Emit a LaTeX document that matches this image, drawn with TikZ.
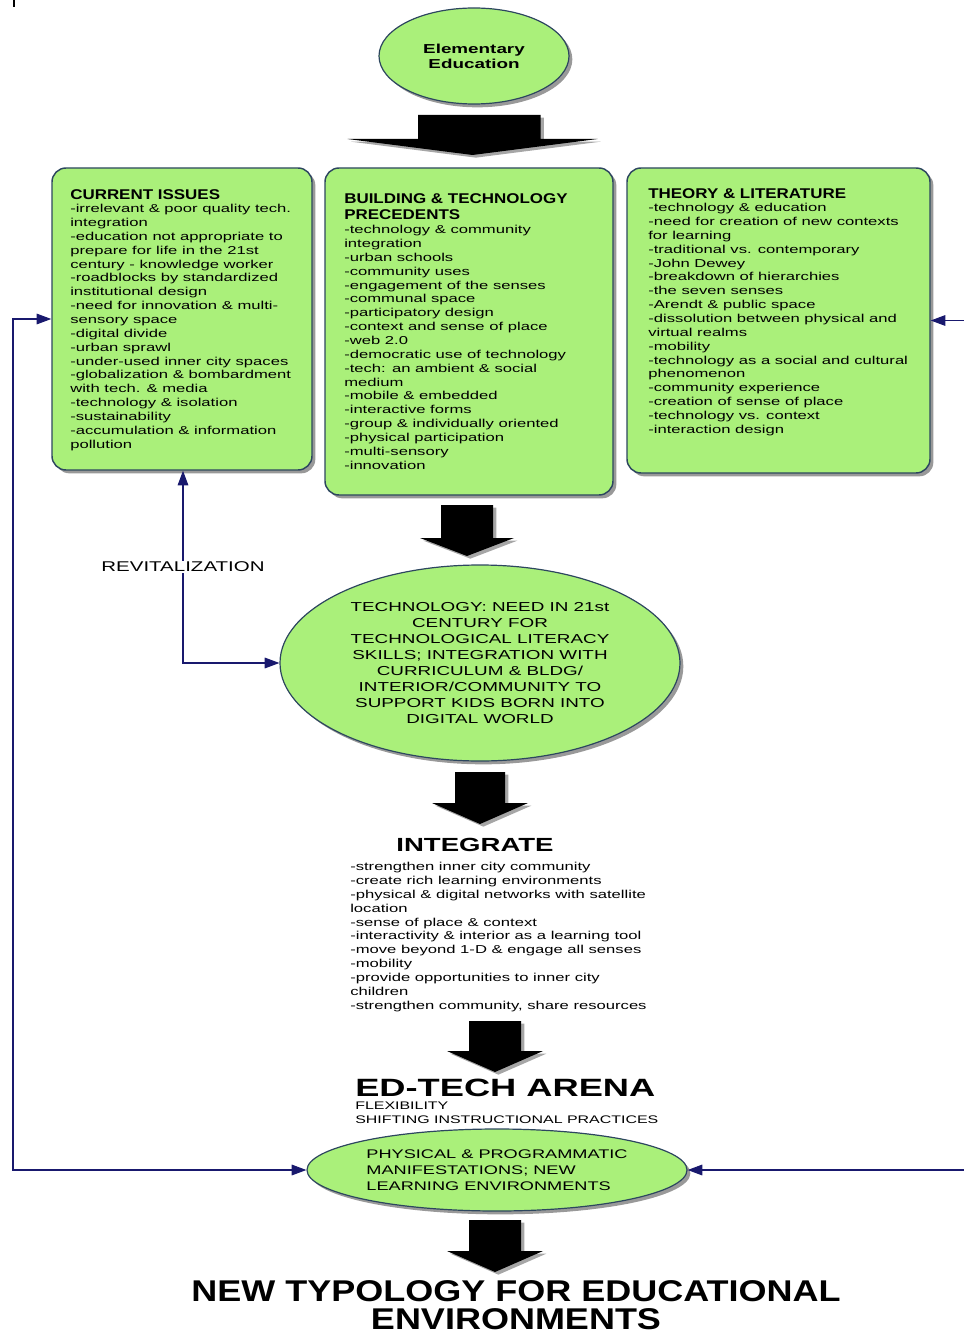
\documentclass[tikz,border=0pt]{standalone}
\usepackage{fontspec}
\setmainfont{Liberation Sans}[FakeStretch=1.45]
\newfontfamily\headfont{Liberation Sans}[FakeStretch=1.2]
\usepackage{xcolor}
\usetikzlibrary{positioning, arrows.meta, shapes.geometric, shadows}

\definecolor{boxgreen}{RGB}{170,240,122}
\definecolor{boxline}{RGB}{45,70,95}
\definecolor{linkblue}{RGB}{25,25,110}

\tikzset{
  greenbox/.style={draw=boxline, fill=boxgreen, line width=1.1pt,
    rounded corners=10.5pt, inner sep=0pt,
    drop shadow={shadow xshift=2.5pt, shadow yshift=-2.5pt, fill=gray, opacity=0.8}},
  greenoval/.style={ellipse, draw=boxline, fill=boxgreen, line width=0.9pt,
    inner sep=0pt,
    drop shadow={shadow xshift=2.5pt, shadow yshift=-2.5pt, fill=gray, opacity=0.8}},
  blockarrow/.style={fill=black,
    drop shadow={shadow xshift=2.5pt, shadow yshift=-2pt, fill=gray!70, opacity=1}},
  link/.style={draw=linkblue, line width=0.8pt,
    {Triangle[length=11pt,width=8pt]}-{Triangle[length=11pt,width=8pt]}},
  heading/.style={anchor=north west, inner sep=0pt, align=left,
    font=\headfont\bfseries\fontsize{10.6}{12}\selectfont},
  itemlist/.style={anchor=north west, inner sep=0pt, align=left,
    font=\fontsize{8.6}{10.4}\selectfont},
}

\begin{document}
\begin{tikzpicture}[x=0.75pt,y=0.75pt,yscale=-1,xscale=1]
\useasboundingbox (0,0) rectangle (963,1337);

%Straight Lines
\draw [line width=1.2pt] (14,0) -- (14,7) ;

%Shape: Ellipse
\node [greenoval, minimum width=142.5pt, minimum height=72pt, align=center,
  font=\bfseries\fontsize{9.75}{11.25}\selectfont] (elem) at (474,56)
{Elementary\\Education};

%Shape: Arrow
\fill [blockarrow] (418,115) -- (540.5,115) -- (540.5,139) -- (597.5,139)
  -- (472.5,155) -- (347.5,139) -- (418,139) -- cycle ;

%Shape: Rectangle
\node [greenbox, minimum width=195pt, minimum height=226.5pt] (issues) at (182,319) {};
%Shape: Rectangle
\node [greenbox, minimum width=216pt, minimum height=245.25pt] (precedents) at (469,331.5) {};
%Shape: Rectangle
\node [greenbox, minimum width=227.25pt, minimum height=228.75pt] (theory) at (778.5,320.5) {};

% Text Node
\node [heading] (issueshead) at (70,189) {CURRENT ISSUES};
% Text Node
\node [itemlist] (issueslist) at (70,204)
{-irrelevant \& poor quality tech.\\integration\\-education not appropriate to\\
prepare for life in the 21st\\century - knowledge worker\\-roadblocks by standardized\\
institutional design\\-need for innovation \& multi-\\sensory space\\-digital divide\\
-urban sprawl\\-under-used inner city spaces\\-globalization \& bombardment\\
with tech. \& media\\-technology \& isolation\\-sustainability\\
-accumulation \& information\\pollution};

% Text Node
\node [heading] (precedentshead) at (344,193) {BUILDING \& TECHNOLOGY\\PRECEDENTS};
% Text Node
\node [itemlist] (precedentslist) at (344,225)
{-technology \& community\\integration\\-urban schools\\-community uses\\
-engagement of the senses\\-communal space\\-participatory design\\
-context and sense of place\\-web 2.0\\-democratic use of technology\\
-tech: an ambient \& social\\medium\\-mobile \& embedded\\-interactive forms\\
-group \& individually oriented\\-physical participation\\-multi-sensory\\-innovation};

% Text Node
\node [heading] (theoryhead) at (648,188) {THEORY \& LITERATURE};
% Text Node
\node [itemlist] (theorylist) at (648,203)
{-technology \& education\\-need for creation of new contexts\\for learning\\
-traditional vs. contemporary\\-John Dewey\\-breakdown of hierarchies\\
-the seven senses\\-Arendt \& public space\\-dissolution between physical and\\
virtual realms\\-mobility\\-technology as a social and cultural\\phenomenon\\
-community experience\\-creation of sense of place\\-technology vs. context\\
-interaction design};

%Shape: Arrow
\fill [blockarrow] (441,505) -- (493,505) -- (493,538) -- (514,538)
  -- (467,556) -- (420,538) -- (441,538) -- cycle ;

%Shape: Ellipse
\node [greenoval, minimum width=300pt, minimum height=147pt, align=center,
  font=\fontsize{9.75}{12}\selectfont] (tech) at (480,663)
{TECHNOLOGY: NEED IN 21st\\CENTURY FOR\\TECHNOLOGICAL LITERACY\\
SKILLS; INTEGRATION WITH\\CURRICULUM \& BLDG/\\INTERIOR/COMMUNITY TO\\
SUPPORT KIDS BORN INTO\\DIGITAL WORLD};

%Straight Lines
\coordinate (revitcorner) at (183,663);
\draw [link] (issues.south -| revitcorner) -- (revitcorner) -- (tech.west) ;
% Text Node
\node [fill=white, inner sep=1pt, font=\fontsize{10.6}{12}\selectfont] (revitlabel)
  at (183,567) {REVITALIZATION};

%Shape: Arrow
\fill [blockarrow] (455,772) -- (505,772) -- (505,803) -- (528,803)
  -- (480,824) -- (432,803) -- (455,803) -- cycle ;

% Text Node
\node [inner sep=0pt, font=\bfseries\fontsize{14.25}{16}\selectfont] (integratehead)
  at (475,845) {INTEGRATE};
% Text Node
\node [itemlist] (integratelist) at (350,862)
{-strengthen inner city community\\-create rich learning environments\\
-physical \& digital networks with satellite\\location\\-sense of place \& context\\
-interactivity \& interior as a learning tool\\-move beyond 1-D \& engage all senses\\
-mobility\\-provide opportunities to inner city\\children\\
-strengthen community, share resources};

%Shape: Arrow
\fill [blockarrow] (469,1021) -- (521,1021) -- (521,1051) -- (543,1051)
  -- (495,1072) -- (447,1051) -- (469,1051) -- cycle ;

% Text Node
\node [anchor=north west, inner sep=0pt, font=\bfseries\fontsize{18.75}{20}\selectfont]
  (arenahead) at (355,1079) {ED-TECH ARENA};
% Text Node
\node [anchor=north west, inner sep=0pt, align=left, font=\fontsize{8.25}{10.5}\selectfont]
  (arenalist) at (355,1102) {FLEXIBILITY\\SHIFTING INSTRUCTIONAL PRACTICES};

%Shape: Ellipse
\node [greenoval, minimum width=285pt, minimum height=61.5pt, align=left,
  font=\fontsize{9.4}{12}\selectfont] (phys) at (497,1170)
{PHYSICAL \& PROGRAMMATIC\\MANIFESTATIONS; NEW\\LEARNING ENVIRONMENTS};

%Straight Lines
\coordinate (leftloop) at (13,1170);
\draw [link] (issues.west) -| (leftloop) -- (phys.west) ;
%Straight Lines
\coordinate (rightloop) at (985,1170);
\draw [link] (theory.east) -| (rightloop) -- (phys.east) ;

%Shape: Arrow
\fill [blockarrow] (469,1220) -- (521,1220) -- (521,1251) -- (543,1251)
  -- (495,1272) -- (447,1251) -- (469,1251) -- cycle ;

% Text Node
\node [inner sep=0pt, align=center, font=\headfont\bfseries\fontsize{22.5}{21}\selectfont]
  (typology) at (516,1305) {NEW TYPOLOGY FOR EDUCATIONAL\\ENVIRONMENTS};

\end{tikzpicture}
\end{document}
